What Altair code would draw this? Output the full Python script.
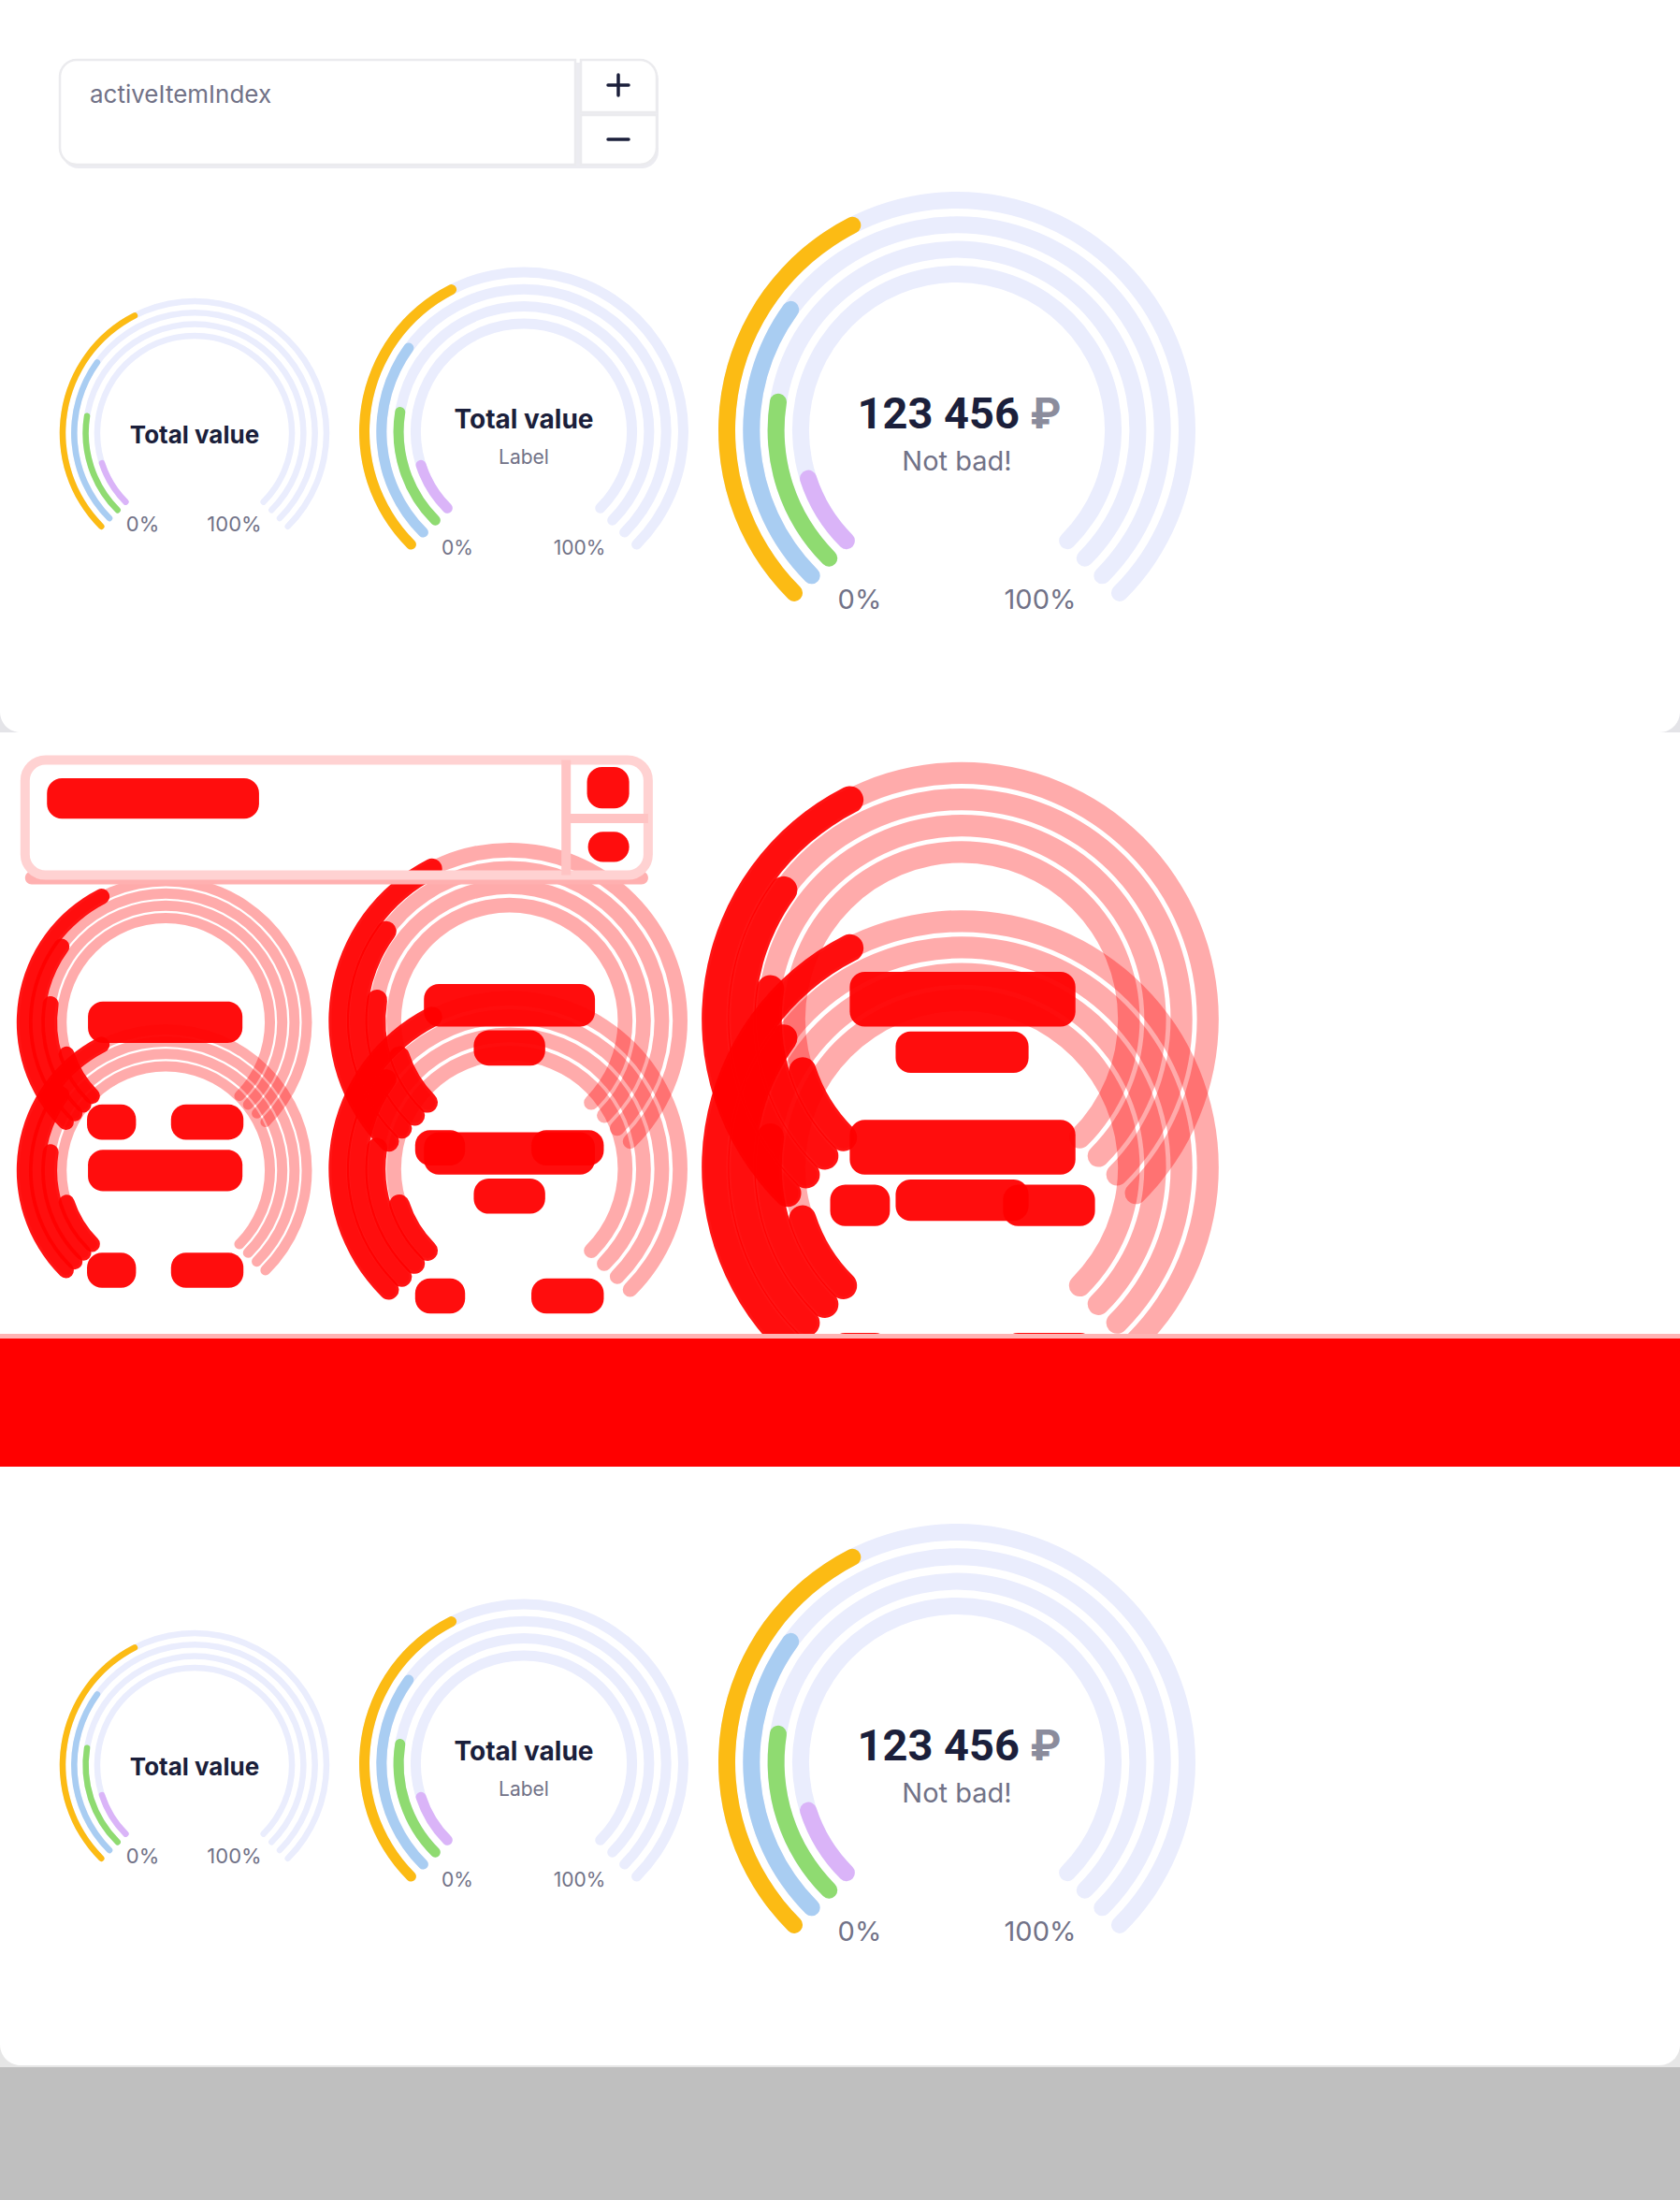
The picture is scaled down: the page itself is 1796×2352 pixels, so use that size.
import math
import altair as alt
import pandas as pd

W, H = 1796, 2352

# ---------------- data ----------------
series = ["Series 1", "Series 2", "Series 3", "Series 4"]
values = [40, 30, 20, 10]
max_value = 100
series_colors = ["#fcbb14", "#a9cdf2", "#8fdb71", "#dab4f8"]
track_color = "#eaedfd"

titles = ["Total value", "Total value", "123 456"]
currency = "₽"
subtitles = ["", "Label", "Not bad!"]
min_label = "0%"
max_label = "100%"
input_label = "activeItemIndex"

# ---------------- layout ----------------
NAVY = "#1b1f3b"
GRAY = "#717287"
CUR_GRAY = "#8b8c9c"
RED = "#ff0000"

gauge_cx = [208, 560, 1023]
gauge_cy = [463, 461.5, 460]
gauge_r = [141, 170.5, 246]
ring_step = [12.3, 18.3, 26.3]
ring_w = [6.5, 11, 18]
title_size = [26, 28, 47]
title_base = [474, 458, 458]
sub_size = [0, 21, 29]
sub_base = [0, 496, 503]
lab_size = [22, 21, 29]
lab_base = [568, 593, 651]
lab_min_x = [152.5, 489, 919]
lab_max_x = [250.5, 619.5, 1112]

BOTTOM_DY = 1424          # second screenshot offset
SHOT2_SHIFT = 144         # second screenshot has no input block
# diff-image transform (ghosts)
GX_A, GX_B = 1.044, -40
GY_A = 1.10
GY_B = 742
GR = 1.07

theta_scale = alt.Scale(domain=[0, max_value], range=[-3 * math.pi / 4, 3 * math.pi / 4])


def ring_rows(rscale, wextra, dy_copy, gtransform):
    tracks, vals = [], []
    for g in range(3):
        for i, v in enumerate(values):
            rm = (gauge_r[g] - i * ring_step[g]) * rscale
            t = ring_w[g] * rscale + wextra
            cap = (t / 2) / rm / (1.5 * math.pi) * max_value
            x, y = gtransform(gauge_cx[g], gauge_cy[g] + dy_copy)
            base = dict(cx=x, cy=y, r_in=rm - t / 2, r_out=rm + t / 2, series=series[i])
            tracks.append(dict(base, start=-cap, end=max_value + cap, color=track_color))
            vals.append(dict(base, start=-cap, end=v + cap, color=series_colors[i]))
    return tracks, vals


ident = lambda x, y: (x, y)
ghost = lambda x, y: (GX_A * x + GX_B, GY_A * y + GY_B)

tracks, vals = [], []
for dy in (0, BOTTOM_DY):
    t_, v_ = ring_rows(1.0, 0, dy, ident)
    tracks += t_
    vals += v_

g_tracks, g_vals = [], []
for dy in (0, -SHOT2_SHIFT):
    t_, _ = ring_rows(GR, 4, dy, ghost)
    _, v_ = ring_rows(GR, 10, dy, ghost)
    g_tracks += t_
    g_vals += v_
for r in g_tracks:
    r["color"] = RED
for r in g_vals:
    r["color"] = RED


def arc_layer(rows, opacity=1.0):
    return alt.Chart(pd.DataFrame(rows)).mark_arc(cornerRadius=60, opacity=opacity).encode(
        x=alt.X("cx:Q", scale=None, axis=None),
        y=alt.Y("cy:Q", scale=None, axis=None),
        theta=alt.Theta("start:Q", scale=theta_scale, stack=False),
        theta2="end:Q",
        radius=alt.Radius("r_out:Q", scale=None),
        radius2="r_in:Q",
        color=alt.Color("color:N", scale=None),
    )


def rect_layer(rows, **mark):
    return alt.Chart(pd.DataFrame(rows)).mark_rect(**mark).encode(
        x=alt.X("x0:Q", scale=None, axis=None),
        x2="x1:Q",
        y=alt.Y("y0:Q", scale=None, axis=None),
        y2="y1:Q",
        color=alt.Color("color:N", scale=None),
    )


def R(x0, x1, y0, y1, color):
    return dict(x0=x0, x1=x1, y0=y0, y1=y1, color=color)


# ---------- backgrounds ----------
bg_layers = [
    rect_layer([R(0, W, 760, 783, "#e4e4e8"), R(0, W, 2188, 2210, "#e6e6e6"),
                R(0, W, 2210, H, "#bfbfbf")]),
    rect_layer([R(0, W, 0, 783, "white"), R(0, W, 1568, 2208, "white")],
               cornerRadiusBottomLeft=22, cornerRadiusBottomRight=22),
    rect_layer([R(0, W, 783, 1426, "white")]),
]

# ---------- input block ----------
input_layers = [
    rect_layer([R(66, 704, 67, 180, "#ececf1")], cornerRadius=18),
    rect_layer([R(64, 615, 64, 176, "white")], cornerRadiusTopLeft=18,
               cornerRadiusBottomLeft=18, stroke="#ebebee", strokeWidth=2.5),
    rect_layer([R(621, 702, 64, 120, "white")], cornerRadiusTopRight=18,
               stroke="#ebebee", strokeWidth=2.5),
    rect_layer([R(621, 702, 123, 176, "white")], cornerRadiusBottomRight=18,
               stroke="#ebebee", strokeWidth=2.5),
]

sign_rows = [
    dict(x0=650, x1=672, y0=91, y1=91),
    dict(x0=661, x1=661, y0=80, y1=102),
    dict(x0=650, x1=672, y0=149, y1=149),
]
sign_layer = alt.Chart(pd.DataFrame(sign_rows)).mark_rule(
    color=NAVY, strokeWidth=3.5, strokeCap="round").encode(
    x=alt.X("x0:Q", scale=None, axis=None), x2="x1:Q",
    y=alt.Y("y0:Q", scale=None, axis=None), y2="y1:Q")

# ---------- ghost (diff) ----------
ink_boxes_gauges = [
    (138, 277, 452, 474), (137, 168, 552, 568), (223, 278, 552, 568),
    (482, 638, 435, 458), (533, 587, 480, 496), (473, 505, 577, 593), (592, 647, 577, 593),
    (918, 1130, 423, 458), (965, 1082, 481, 503), (898, 940, 630, 652), (1075, 1150, 630, 652),
]
ink_boxes_input = [(96, 294, 91, 112), (649, 673, 80, 102), (650, 673, 143, 154)]
PAD = 10
blob_rows = []
for dy, boxes in ((0, ink_boxes_gauges + ink_boxes_input), (-SHOT2_SHIFT, ink_boxes_gauges)):
    for (x0, x1, y0, y1) in boxes:
        gx0, gy0 = ghost(x0, y0 + dy)
        gx1, gy1 = ghost(x1, y1 + dy)
        blob_rows.append(R(gx0 - PAD, gx1 + PAD, gy0 - PAD, gy1 + PAD, RED))

bx0, by0 = ghost(64, 64)
bx1, by1 = ghost(702, 176)
dvx, _ = ghost(618, 0)
_, dvy = ghost(0, 121)
bbx0, _ = ghost(621, 0)
ghost_input_layers = [
    rect_layer([R(bx0, bx1, by1 - 4, by1 + 10, "#ffb0b0")], cornerRadius=8),
    rect_layer([R(bx0, bx1, by0, by1, "#ffd2d2")], filled=False, strokeWidth=10,
               cornerRadius=22),
    rect_layer([R(dvx - 5, dvx + 5, by0, by1, "#ffc4c4"),
                R(bbx0, bx1, dvy - 5, dvy + 5, "#ffc4c4")]),
]

band_layers = [
    rect_layer([R(0, W, 1426, 1431, "#ffb3b3"), R(0, W, 1431, 1568, RED)]),
]

# ---------- texts ----------
text_rows = []
for dy in (0, BOTTOM_DY):
    for g in range(3):
        cx = gauge_cx[g]
        if g < 2:
            text_rows.append(dict(x=cx, y=title_base[g] + dy, text=titles[g], size=title_size[g],
                                  color=NAVY, font="Inter", weight="bold", align="center"))
        else:
            text_rows.append(dict(x=1090, y=title_base[g] + dy, text=titles[g], size=title_size[g],
                                  color=NAVY, font="Roboto", weight="bold", align="right"))
            text_rows.append(dict(x=1101, y=title_base[g] + dy, text=currency, size=title_size[g] - 2,
                                  color=CUR_GRAY, font="Inter", weight="bold", align="left"))
        if subtitles[g]:
            text_rows.append(dict(x=cx, y=sub_base[g] + dy, text=subtitles[g], size=sub_size[g],
                                  color=GRAY, font="Inter", weight="normal", align="center"))
        text_rows.append(dict(x=lab_min_x[g], y=lab_base[g] + dy, text=min_label, size=lab_size[g],
                              color=GRAY, font="Inter", weight="normal", align="center"))
        text_rows.append(dict(x=lab_max_x[g], y=lab_base[g] + dy, text=max_label, size=lab_size[g],
                              color=GRAY, font="Inter", weight="normal", align="center"))
text_rows.append(dict(x=96, y=110, text=input_label, size=26, color=GRAY, font="Inter",
                      weight="normal", align="left"))
tdf = pd.DataFrame(text_rows)

text_layers = []
for (font, weight, align), sub in tdf.groupby(["font", "weight", "align"]):
    text_layers.append(
        alt.Chart(sub).mark_text(font=font, fontWeight=weight, align=align,
                                 baseline="alphabetic").encode(
            x=alt.X("x:Q", scale=None, axis=None),
            y=alt.Y("y:Q", scale=None, axis=None),
            text="text:N",
            size=alt.Size("size:Q", scale=None),
            color=alt.Color("color:N", scale=None),
        )
    )

layers = (
    bg_layers
    + [arc_layer(g_tracks, 0.33), arc_layer(g_vals, 0.92)]
    + [rect_layer(blob_rows, cornerRadius=16, opacity=0.95)]
    + ghost_input_layers
    + band_layers
    + input_layers
    + [arc_layer(tracks), arc_layer(vals)]
    + text_layers
    + [sign_layer]
)

chart = alt.layer(*layers).properties(
    width=W, height=H, padding=0,
    autosize=alt.AutoSizeParams(type="none"),
).configure_view(stroke=None).configure(background="white")

chart.save("out.html", embed_options={"renderer": "svg", "actions": False})
